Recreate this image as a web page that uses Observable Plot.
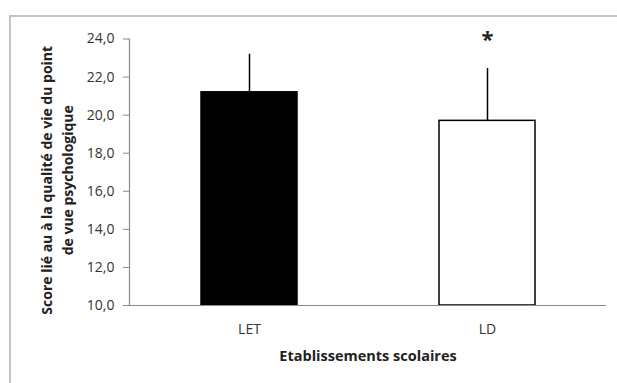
<!DOCTYPE html>
<html>
<head>
<meta charset="utf-8">
<script src="https://cdn.jsdelivr.net/npm/d3@7"></script>
<script src="https://cdn.jsdelivr.net/npm/@observablehq/plot@0.6"></script>
<style>
  html, body { margin: 0; padding: 0; background: #fff; }
  #chart { position: relative; width: 617px; height: 383px; overflow: hidden; }
  #chart .border {
    position: absolute; left: 9px; top: 15px; right: -4px; bottom: -4px;
    border-top: 2px solid #c4c4c4; border-left: 2px solid #c4c4c4;
    pointer-events: none;
  }
  #chart svg { position: absolute; left: 0; top: 0; }
</style>
</head>
<body>
<div id="chart"><div class="border"></div></div>
<script>
// School types and their mean psychological quality-of-life scores
const etablissements = ["LET", "LD"];
const scores = [21.2, 19.7];
const ecartsTypes = [2.0, 2.75];
const significativite = ["", "*"];
const remplissage = ["#000000", "#ffffff"];
const yTicks = [10, 12, 14, 16, 18, 20, 22, 24];
const titreY = "Score lié au à la qualité de vie du point\nde vue psychologique";
const titreX = "Etablissements scolaires";

const data = etablissements.map((e, i) => ({
  etab: e, score: scores[i], sd: ecartsTypes[i], sig: significativite[i], fill: remplissage[i]
}));

const fmt = d => d.toFixed(1).replace(".", ",");
const font = "'Open Sans', Lato, sans-serif";

const chart = Plot.plot({
  width: 617,
  height: 383,
  marginLeft: 129,
  marginRight: 11,
  marginTop: 38.5,
  marginBottom: 78,
  style: { fontFamily: font, fontSize: "14px", color: "#222", background: "transparent", overflow: "visible" },
  x: { domain: etablissements, paddingInner: 0.597, paddingOuter: 0.3, label: null },
  y: { domain: [10, 24], label: null },
  marks: [
    Plot.axisY({ ticks: yTicks, tickFormat: fmt, tickSize: 6, tickPadding: 9, stroke: "#8a8a8a", fill: "#333", fontSize: 14 }),
    Plot.axisX({ tickSize: 0, tickPadding: 19, fill: "#333", fontSize: 14 }),
    Plot.frame({ anchor: "left", stroke: "#8a8a8a", strokeWidth: 1.2 }),
    Plot.barY(data, { x: "etab", y1: 10, y2: "score", fill: "fill", stroke: "#000", strokeWidth: 1.5 }),
    Plot.ruleX(data, { x: "etab", y1: "score", y2: d => d.score + d.sd, stroke: "#000", strokeWidth: 1.5 }),
    Plot.ruleY([10], { stroke: "#8a8a8a", strokeWidth: 1.2 }),
    Plot.text(data, { x: "etab", y: 24, text: "sig", fontSize: 22, fontWeight: "bold", dy: 1, fill: "#222" }),
    Plot.text([titreY], { frameAnchor: "left", text: d => d, rotate: -90, dx: -74, dy: 8,
      textAnchor: "middle", lineAnchor: "middle",
      fontWeight: "bold", fontSize: 14, lineHeight: 1.55, fill: "#222" }),
    Plot.text([titreX], { frameAnchor: "bottom", text: d => d, dy: 55, fontWeight: "bold", fontSize: 14.5, fill: "#222" })
  ]
});
document.getElementById("chart").appendChild(chart);
</script>
</body>
</html>
